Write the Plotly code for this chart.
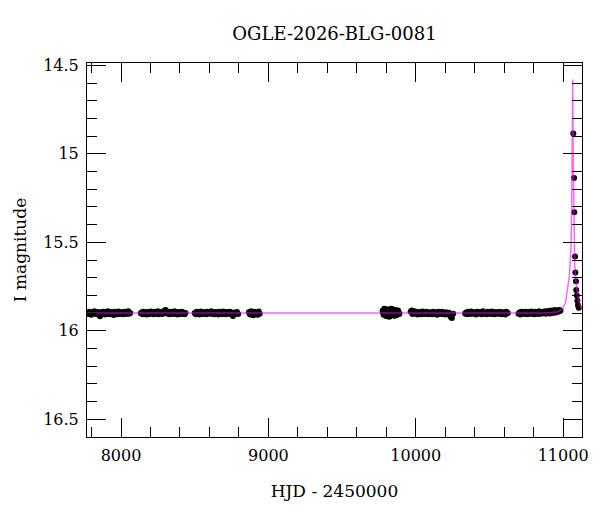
import plotly.graph_objects as go

title_text = "OGLE-2026-BLG-0081"
x_label = "HJD - 2450000"
y_label = "I magnitude"

# --- observed photometry, season by season (HJD - 2450000, I mag) ---
hjd_s1 = [7772, 7779, 7785, 7792, 7798, 7805, 7811, 7818, 7824, 7831, 7838, 7844, 7851, 7857, 7864,
          7871, 7877, 7884, 7890, 7897, 7904, 7910, 7917, 7923, 7930, 7937, 7943, 7950, 7956, 7963,
          7970, 7976, 7983, 7989, 7996, 8003, 8009, 8016, 8022, 8029, 8036, 8042, 8049, 8055, 8062]
mag_s1 = [15.898, 15.905, 15.893, 15.902, 15.909, 15.896, 15.901, 15.890, 15.904, 15.899, 15.907, 15.894,
          15.903, 15.918, 15.897, 15.905, 15.892, 15.900, 15.908, 15.895, 15.903, 15.889, 15.906, 15.899,
          15.894, 15.904, 15.900, 15.911, 15.893, 15.902, 15.897, 15.906, 15.891, 15.903, 15.899, 15.895,
          15.907, 15.901, 15.893, 15.905, 15.898, 15.902, 15.890, 15.904, 15.899]

hjd_s2 = [8134, 8141, 8147, 8154, 8161, 8168, 8174, 8181, 8188, 8195, 8201, 8208, 8215, 8222, 8228,
          8235, 8242, 8249, 8255, 8262, 8269, 8276, 8282, 8289, 8296, 8303, 8309, 8316, 8323, 8330,
          8336, 8343, 8350, 8357, 8363, 8370, 8377, 8384, 8390, 8397, 8404, 8411, 8417, 8424, 8431, 8437]
mag_s2 = [15.901, 15.895, 15.906, 15.892, 15.903, 15.898, 15.908, 15.894, 15.900, 15.905, 15.891, 15.902,
          15.897, 15.907, 15.893, 15.904, 15.899, 15.890, 15.906, 15.896, 15.902, 15.894, 15.905, 15.899,
          15.886, 15.882, 15.893, 15.903, 15.897, 15.907, 15.892, 15.901, 15.896, 15.905, 15.890, 15.903,
          15.898, 15.908, 15.894, 15.900, 15.905, 15.893, 15.902, 15.897, 15.906, 15.899]

hjd_s3 = [8500, 8507, 8513, 8520, 8527, 8533, 8540, 8547, 8553, 8560, 8567, 8573, 8580, 8587, 8593,
          8600, 8607, 8613, 8620, 8627, 8633, 8640, 8647, 8653, 8660, 8667, 8673, 8680, 8687, 8693,
          8700, 8707, 8713, 8720, 8727, 8733, 8740, 8747, 8753, 8760, 8767, 8773, 8780, 8787, 8795]
mag_s3 = [15.899, 15.906, 15.893, 15.902, 15.896, 15.908, 15.891, 15.903, 15.898, 15.905, 15.894, 15.901,
          15.907, 15.892, 15.900, 15.896, 15.904, 15.890, 15.903, 15.899, 15.906, 15.894, 15.901, 15.897,
          15.908, 15.893, 15.902, 15.898, 15.905, 15.891, 15.903, 15.897, 15.906, 15.894, 15.900, 15.904,
          15.892, 15.901, 15.909, 15.916, 15.896, 15.903, 15.899, 15.894, 15.905]

hjd_s4 = [8867, 8875, 8882, 8890, 8897, 8905, 8912, 8920, 8927, 8934, 8941]
mag_s4 = [15.895, 15.908, 15.889, 15.903, 15.912, 15.893, 15.906, 15.899, 15.910, 15.891, 15.904]

hjd_s5 = [9775, 9778, 9782, 9786, 9789, 9793, 9796, 9800, 9803, 9807, 9810, 9814, 9817, 9821, 9824,
          9828, 9831, 9835, 9838, 9842, 9845, 9849, 9852, 9856, 9859, 9863, 9866, 9870, 9873, 9877,
          9880, 9884, 9889]
mag_s5 = [15.887, 15.900, 15.910, 15.875, 15.878, 15.914, 15.903, 15.893, 15.918, 15.879, 15.882, 15.908,
          15.895, 15.920, 15.912, 15.888, 15.876, 15.896, 15.905, 15.878, 15.889, 15.906, 15.915, 15.899,
          15.882, 15.914, 15.898, 15.886, 15.910, 15.893, 15.885, 15.907, 15.902]

hjd_s6 = [9965, 9972, 9978, 9985, 9992, 9998, 10005, 10012, 10018, 10025, 10032, 10038, 10045, 10052,
          10058, 10065, 10072, 10078, 10085, 10092, 10098, 10105, 10112, 10118, 10125, 10132, 10138,
          10145, 10152, 10158, 10165, 10172, 10178, 10185, 10192, 10198, 10205, 10212, 10218, 10225,
          10232, 10238, 10245, 10254]
mag_s6 = [15.893, 15.886, 15.905, 15.897, 15.890, 15.903, 15.899, 15.908, 15.894, 15.901, 15.896, 15.906,
          15.891, 15.903, 15.898, 15.905, 15.893, 15.901, 15.907, 15.895, 15.902, 15.898, 15.906, 15.892,
          15.900, 15.904, 15.896, 15.909, 15.893, 15.901, 15.897, 15.905, 15.892, 15.903, 15.899, 15.908,
          15.895, 15.901, 15.906, 15.898, 15.912, 15.922, 15.928, 15.904]

hjd_s7 = [10335, 10342, 10348, 10355, 10362, 10368, 10375, 10382, 10388, 10395, 10402, 10408, 10415,
          10422, 10428, 10435, 10442, 10448, 10455, 10462, 10468, 10475, 10482, 10488, 10495, 10502,
          10508, 10515, 10522, 10528, 10535, 10542, 10548, 10555, 10562, 10568, 10575, 10582, 10588,
          10595, 10602, 10608, 10615, 10624]
mag_s7 = [15.902, 15.896, 15.907, 15.893, 15.900, 15.905, 15.891, 15.899, 15.904, 15.895, 15.901, 15.908,
          15.892, 15.898, 15.903, 15.894, 15.901, 15.906, 15.890, 15.897, 15.903, 15.899, 15.907, 15.893,
          15.900, 15.896, 15.905, 15.891, 15.902, 15.898, 15.906, 15.894, 15.901, 15.897, 15.904, 15.892,
          15.899, 15.906, 15.895, 15.902, 15.897, 15.908, 15.893, 15.900]

hjd_s8 = [10697, 10704, 10710, 10717, 10724, 10730, 10737, 10744, 10750, 10757, 10764, 10770, 10777,
          10784, 10790, 10797, 10804, 10810, 10817, 10824, 10830, 10837, 10844, 10850, 10857, 10864,
          10870, 10877, 10884, 10890, 10897, 10904, 10910, 10917, 10924, 10930, 10937, 10944, 10950,
          10957, 10964, 10970, 10976, 10982]
mag_s8 = [15.903, 15.896, 15.908, 15.893, 15.901, 15.897, 15.905, 15.892, 15.900, 15.906, 15.894, 15.899,
          15.904, 15.891, 15.902, 15.897, 15.907, 15.893, 15.900, 15.896, 15.905, 15.890, 15.899, 15.903,
          15.894, 15.901, 15.896, 15.889, 15.904, 15.893, 15.898, 15.887, 15.902, 15.892, 15.885, 15.899,
          15.890, 15.883, 15.897, 15.888, 15.893, 15.882, 15.890, 15.886]

hjd_peak = [11069, 11074, 11076, 11081, 11083, 11087, 11089, 11093, 11097, 11101, 11106]
mag_peak = [14.886, 15.137, 15.330, 15.580, 15.670, 15.720, 15.770, 15.800, 15.830, 15.855, 15.870]

# --- model light curve ---
model_hjd = [7769, 10900, 10966, 10996, 11016, 11031, 11041, 11048, 11054, 11058, 11061, 11063,
             11064, 11065, 11066, 11067, 11069, 11071, 11074, 11078, 11084, 11091, 11101, 11116, 11128]
model_mag = [15.900, 15.899, 15.893, 15.875, 15.840, 15.770, 15.700, 15.620, 15.500, 15.300, 15.050,
             14.800, 14.650, 14.580, 14.650, 14.800, 15.050, 15.300, 15.500, 15.620, 15.700, 15.770,
             15.820, 15.860, 15.875]

hjd_all = hjd_s1 + hjd_s2 + hjd_s3 + hjd_s4 + hjd_s5 + hjd_s6 + hjd_s7 + hjd_s8 + hjd_peak
mag_all = mag_s1 + mag_s2 + mag_s3 + mag_s4 + mag_s5 + mag_s6 + mag_s7 + mag_s8 + mag_peak

FONT = "DejaVu Serif"

fig = go.Figure()
fig.add_trace(go.Scatter(x=hjd_all, y=mag_all, mode="markers",
                         marker=dict(color="black", size=6, line=dict(width=0)),
                         showlegend=False, hoverinfo="skip"))
fig.add_trace(go.Scatter(x=model_hjd, y=model_mag, mode="lines",
                         line=dict(color="rgba(255,0,255,0.6)", width=1.5),
                         showlegend=False, hoverinfo="skip"))

axis_common = dict(
    showgrid=False, zeroline=False, showline=True, linecolor="black", linewidth=1,
    mirror="ticks", ticks="inside", ticklen=19, tickwidth=1, tickcolor="black",
    tickfont=dict(family=FONT, size=16, color="black"),
)

fig.update_xaxes(**axis_common, range=[7769, 11128], tick0=0, dtick=1000, tickformat="d",
                 minor=dict(ticks="inside", ticklen=10, tickwidth=1, tickcolor="black", tick0=0, dtick=200),
                 title=dict(text=x_label, font=dict(family=FONT, size=17, color="black"), standoff=20),
                 ticklabelstandoff=4)
fig.update_yaxes(**axis_common, range=[16.6, 14.487], tick0=0, dtick=0.5,
                 minor=dict(ticks="inside", ticklen=10, tickwidth=1, tickcolor="black", tick0=0, dtick=0.1),
                 title=dict(text=y_label, font=dict(family=FONT, size=17, color="black"), standoff=12),
                 ticklabelstandoff=4)

fig.update_layout(
    width=600, height=512,
    margin=dict(l=87, r=13, t=63, b=75, pad=0),
    plot_bgcolor="white", paper_bgcolor="white",
    font=dict(family=FONT, size=16, color="black"),
    title=dict(text=title_text, x=0.5, xref="paper", xanchor="center",
               y=1 - 34 / 512, yref="container", yanchor="middle",
               font=dict(family=FONT, size=18, color="black")),
)

fig.write_html("out.html", config={"displayModeBar": False},
               post_script="document.body.style.margin='0';document.body.style.overflow='hidden';")
